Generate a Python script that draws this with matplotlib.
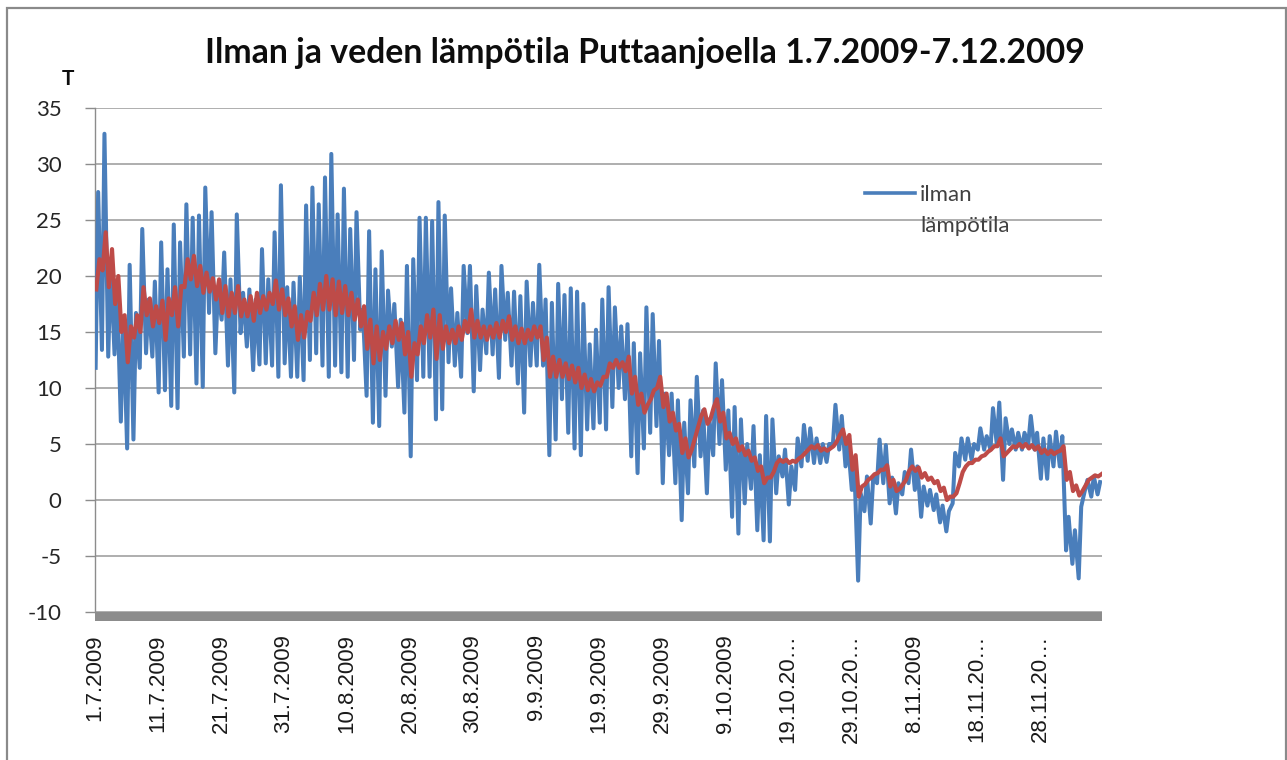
import numpy as np
import matplotlib
matplotlib.use("Agg")
import matplotlib.pyplot as plt
from matplotlib.patches import Rectangle
from matplotlib.lines import Line2D

plt.rcParams["axes.unicode_minus"] = False

# ---------------- data ----------------
title = "Ilman ja veden lämpötila Puttaanjoella 1.7.2009-7.12.2009"
y_label = "T"
legend_line1 = "ilman"
legend_line2 = "lämpötila"

tick_days = [0, 10, 20, 30, 40, 50, 60, 70, 80, 90, 100, 110, 120, 130, 140, 150]
tick_labels = ["1.7.2009", "11.7.2009", "21.7.2009", "31.7.2009", "10.8.2009",
               "20.8.2009", "30.8.2009", "9.9.2009", "19.9.2009", "29.9.2009",
               "9.10.2009", "19.10.20…", "29.10.20…", "8.11.2009", "18.11.20…",
               "28.11.20…"]
y_ticks = [-10, -5, 0, 5, 10, 15, 20, 25, 30, 35]

# daily maximum / minimum of air temperature (1.7.2009 - 7.12.2009)
air_max = [27.5, 32.7, 21.2, 19.0, 16.4, 21.0, 16.7, 24.2, 17.9, 19.5,
           23.0, 20.6, 24.6, 23.0, 26.4, 25.2, 25.4, 27.9, 25.7, 18.8,
           22.1, 19.7, 25.5, 18.5, 18.8, 17.9, 22.4, 19.7, 23.9, 28.1,
           19.0, 19.4, 19.9, 26.3, 27.9, 26.4, 28.8, 30.9, 25.5, 27.8,
           24.2, 25.7, 17.0, 24.0, 20.6, 22.2, 18.7, 17.5, 16.1, 20.9,
           21.5, 25.2, 25.2, 24.9, 26.6, 25.4, 18.9, 16.7, 20.9, 20.9,
           19.1, 17.0, 20.3, 18.8, 20.9, 18.5, 18.6, 18.2, 19.5, 17.6,
           21.0, 17.9, 17.6, 19.3, 18.3, 18.9, 18.6, 17.5, 13.9, 15.2,
           17.9, 19.0, 17.2, 15.5, 15.7, 14.0, 13.1, 17.2, 16.6, 14.2,
           9.5, 9.5, 8.9, 6.9, 8.9, 11.0, 8.0, 7.2, 12.2, 10.7,
           8.0, 8.3, 7.2, 5.0, 6.6, 4.0, 7.5, 7.2, 3.9, 4.5,
           3.0, 5.5, 6.7, 6.4, 5.5, 5.0, 5.0, 8.5, 7.5, 5.0,
           3.0, 0.6, 2.1, 2.1, 5.4, 4.9, 2.0, 1.5, 2.5, 4.5,
           3.0, 1.2, 0.9, 0.5, -0.5, -1.0, 4.2, 5.5, 5.5, 5.0,
           6.4, 5.7, 8.2, 8.7, 7.3, 6.3, 6.0, 6.0, 7.5, 6.0,
           5.5, 5.7, 6.1, 5.7, -1.5, -2.7, -0.6, 1.8, 2.1, 1.6]
air_min = [11.8, 13.4, 12.8, 13.0, 7.0, 4.6, 5.4, 11.8, 13.1, 12.8,
           9.6, 9.8, 8.4, 8.2, 12.8, 13.0, 10.4, 10.1, 16.7, 13.1,
           16.1, 12.0, 9.6, 14.9, 13.7, 11.6, 12.1, 12.2, 12.0, 11.0,
           12.2, 11.0, 11.0, 10.7, 12.5, 13.1, 12.0, 11.0, 12.0, 11.4,
           11.0, 12.5, 15.2, 9.3, 6.9, 6.6, 9.3, 13.7, 10.1, 7.8,
           3.9, 10.7, 11.0, 11.0, 7.2, 8.1, 12.3, 12.0, 11.0, 14.9,
           9.7, 11.6, 13.1, 13.0, 10.9, 14.3, 12.0, 10.4, 7.8, 12.0,
           12.0, 12.0, 4.0, 5.4, 9.0, 6.0, 4.6, 4.0, 6.3, 6.4,
           6.9, 6.3, 8.3, 10.0, 9.0, 3.9, 2.4, 4.6, 6.0, 6.6,
           1.5, 4.0, 1.5, -1.8, 0.6, 3.0, 3.9, 0.6, 4.0, 5.0,
           2.7, -1.5, -3.0, -0.3, 1.0, -2.7, -3.6, -3.7, 0.6, 2.1,
           -0.4, 0.9, 3.0, 3.5, 3.3, 3.3, 3.4, 5.0, 4.5, 3.0,
           0.9, -7.2, -1.0, -2.1, 1.5, 1.5, -0.3, -1.2, 0.5, 1.5,
           0.9, -1.5, -0.5, -0.9, -2.0, -2.8, -0.3, 3.0, 3.6, 3.6,
           4.5, 4.5, 4.5, 5.0, 1.8, 5.0, 4.5, 4.5, 5.0, 4.5,
           1.9, 1.9, 3.0, 3.0, -4.5, -5.7, -7.0, 0.9, 0.3, 0.5]

# daily maximum / minimum of water temperature
water_max = [21.5, 23.9, 22.4, 20.0, 16.5, 15.5, 16.5, 19.0, 18.0, 17.3,
             17.8, 18.0, 19.0, 19.1, 21.5, 21.8, 20.9, 20.3, 19.8, 19.7,
             19.1, 18.5, 19.1, 17.9, 18.2, 18.5, 18.2, 18.5, 19.6, 18.8,
             18.0, 17.3, 16.5, 16.8, 18.5, 19.3, 20.0, 19.7, 19.5, 19.1,
             18.5, 17.9, 17.3, 16.1, 15.5, 15.0, 15.5, 16.0, 15.8, 15.0,
             14.0, 15.5, 16.5, 17.0, 16.5, 15.5, 15.2, 15.5, 16.0, 17.0,
             16.0, 15.5, 15.5, 15.8, 16.0, 16.4, 15.5, 15.3, 15.2, 15.5,
             15.5, 14.5, 12.8, 12.5, 12.2, 12.0, 11.8, 11.2, 10.8, 10.5,
             11.0, 12.2, 12.5, 12.3, 12.8, 11.0, 9.5, 8.5, 9.8, 11.0,
             9.5, 7.8, 6.8, 5.5, 4.5, 6.5, 8.1, 7.3, 9.0, 7.8,
             6.0, 5.5, 4.8, 4.4, 3.8, 3.0, 2.0, 2.5, 3.6, 3.6,
             3.5, 3.7, 4.2, 4.8, 4.9, 4.6, 4.6, 5.2, 6.3, 5.8,
             4.0, 1.2, 1.8, 2.3, 2.7, 3.1, 1.8, 1.0, 1.8, 3.0,
             2.9, 2.4, 2.0, 1.7, 1.1, 0.3, 0.6, 2.5, 3.3, 3.6,
             3.9, 4.3, 4.8, 5.5, 4.2, 4.8, 5.0, 5.0, 4.9, 4.8,
             4.5, 4.4, 4.3, 4.8, 2.5, 1.3, 0.8, 1.8, 2.2, 2.3]
water_min = [18.8, 20.5, 19.0, 17.5, 15.0, 12.3, 14.5, 15.0, 16.5, 15.5,
             15.8, 14.3, 16.5, 15.5, 19.0, 19.7, 19.1, 18.5, 18.6, 17.9,
             16.7, 16.4, 16.7, 16.4, 16.4, 16.0, 16.7, 17.0, 17.5, 17.0,
             16.5, 15.5, 14.3, 14.5, 16.0, 16.5, 17.0, 17.0, 16.5, 16.7,
             16.5, 16.1, 15.5, 13.5, 12.2, 12.5, 13.5, 14.0, 14.3, 13.0,
             11.0, 13.0, 14.0, 14.5, 12.6, 13.5, 14.0, 14.0, 14.3, 15.0,
             14.5, 14.5, 14.3, 14.5, 14.5, 15.0, 14.3, 14.0, 14.0, 14.3,
             14.5, 12.5, 11.0, 11.0, 11.0, 10.8, 10.5, 10.0, 9.8, 9.7,
             10.2, 11.0, 11.8, 11.8, 11.5, 9.5, 8.5, 7.8, 9.0, 10.0,
             8.3, 7.0, 6.2, 4.2, 3.8, 5.5, 7.5, 6.8, 8.3, 7.0,
             5.5, 5.0, 4.4, 4.0, 3.5, 2.6, 1.5, 2.0, 3.3, 3.4,
             3.3, 3.4, 3.9, 4.5, 4.6, 4.4, 4.4, 4.8, 5.8, 5.0,
             2.7, 0.3, 1.4, 2.0, 2.4, 2.7, 1.2, 0.8, 1.4, 2.6,
             2.6, 2.0, 1.8, 1.5, 0.8, 0.0, 0.3, 1.5, 3.0, 3.3,
             3.6, 4.0, 4.5, 4.8, 3.9, 4.5, 4.7, 4.7, 4.6, 4.5,
             4.2, 4.1, 4.1, 4.4, 1.8, 0.8, 0.4, 1.3, 2.0, 2.1]

# ---------------- figure ----------------
W, H = 1287, 760
fig = plt.figure(figsize=(W / 100, H / 100), dpi=100)
fig.patch.set_facecolor("white")

# outer chart border
fig.add_artist(Rectangle((7 / W, -0.05), (1286 - 7) / W, (H - 8) / H + 0.05,
                         transform=fig.transFigure, fill=False,
                         edgecolor="#8a8a8a", lw=1.6))

ax_l, ax_r, ax_t, ax_b = 95, 1102, 108, 612
ax = fig.add_axes([ax_l / W, (H - ax_b) / H, (ax_r - ax_l) / W, (ax_b - ax_t) / H])

days = np.arange(len(air_max))
air_t = np.column_stack([days + 0.1, days + 0.5]).ravel()
air_v = np.column_stack([air_min, air_max]).ravel()
water_t = np.column_stack([days + 0.2, days + 0.7]).ravel()
water_v = np.column_stack([water_min, water_max]).ravel()

blue = "#4a7ebb"
red = "#be4b48"
ax.plot(air_t, air_v, color=blue, lw=2.9, solid_joinstyle="round", zorder=3)
ax.plot(water_t, water_v, color=red, lw=3.0, solid_joinstyle="round", zorder=4)

ax.set_xlim(0, 159.8)
ax.set_ylim(-10, 35)
ax.set_yticks(y_ticks)
ax.set_xticks(tick_days)
ax.set_xticklabels(tick_labels, rotation=90, va="top", ha="center",
                   fontsize=16, family="Liberation Sans", color="#1a1a1a")
ax.tick_params(axis="x", length=0, pad=16)
ax.tick_params(axis="y", length=7, width=1, color="#8c8c8c", pad=17,
               labelsize=16, labelcolor="#262626")
for lab in ax.get_yticklabels():
    lab.set_family("Lato")

ax.grid(axis="y", color="#a8a8a8", lw=1.3, zorder=1)
ax.set_axisbelow(True)
for s in ["top", "right", "bottom"]:
    ax.spines[s].set_visible(False)
ax.spines["left"].set_color("#8c8c8c")
ax.spines["left"].set_linewidth(1)

# gray floor band under the plot
ax.add_patch(Rectangle((0, -9 / (ax_b - ax_t)), 1, 9 / (ax_b - ax_t),
                       transform=ax.transAxes, facecolor="#8c8c8c",
                       edgecolor="none", clip_on=False, zorder=5))

# title and axis label
fig.text(645 / W, (H - 63) / H, title, ha="center", va="baseline",
         fontsize=24.3, fontweight="bold", family="Lato", color="#0d0d0d")
fig.text(68 / W, (H - 85) / H, y_label, ha="center", va="baseline",
         fontsize=15, fontweight="bold", family="Lato", color="#0d0d0d")

# legend (only the air temperature series)
fig.add_artist(Line2D([865 / W, 915 / W], [(H - 193) / H, (H - 193) / H],
                      transform=fig.transFigure, color=blue, lw=2.6))
fig.text(920 / W, (H - 201) / H, legend_line1, ha="left", va="baseline",
         fontsize=16, family="Lato", color="#404040")
fig.text(920 / W, (H - 232) / H, legend_line2, ha="left", va="baseline",
         fontsize=16, family="Lato", color="#404040")

fig.savefig("out.png", dpi=100, facecolor="white")
